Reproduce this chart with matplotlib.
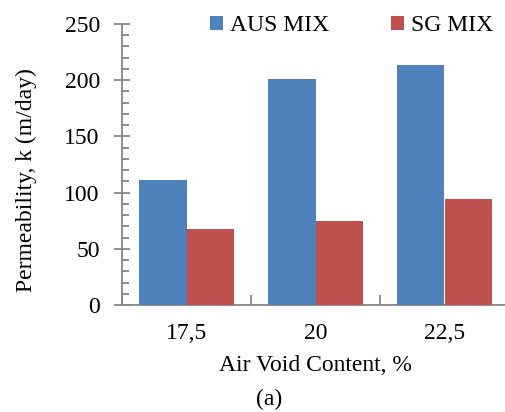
import matplotlib
matplotlib.use("Agg")
import matplotlib.pyplot as plt
from matplotlib.ticker import MultipleLocator, FixedLocator
import numpy as np

categories = ["17,5", "20", "22,5"]
aus_mix = [111, 201, 213.5]
sg_mix = [68, 75, 94]
series_names = ["AUS MIX", "SG MIX"]

plt.rcParams['font.family'] = ['Liberation Serif', 'DejaVu Serif']

W, H = 505, 412
fig = plt.figure(figsize=(W/100, H/100), dpi=100)
ax = fig.add_axes([122/W, (H-305)/H, 387/W, 281/H])

x = np.arange(len(categories))
bw = 0.365
ax.bar(x - bw/2, aus_mix, bw, color='#4F81BD', label=series_names[0], zorder=3)
ax.bar(x + bw/2, sg_mix, bw, color='#C0504D', label=series_names[1], zorder=3)

ax.set_xlim(-0.5, len(categories) - 0.5)
ax.set_ylim(0, 250)
gray = '#868686'
for s in ['top', 'right']:
    ax.spines[s].set_visible(False)
for s in ['left', 'bottom']:
    ax.spines[s].set_color(gray)
    ax.spines[s].set_linewidth(1.3)

ax.yaxis.set_major_locator(MultipleLocator(50))
ax.yaxis.set_minor_locator(MultipleLocator(10))
ax.tick_params(axis='y', which='major', direction='inout', length=12, width=1.3,
               color=gray, labelsize=17, pad=10)
ax.tick_params(axis='y', which='minor', direction='in', length=5, width=1.3, color=gray)

ax.xaxis.set_major_locator(FixedLocator([-0.5, 0.5, 1.5, 2.5]))
ax.xaxis.set_minor_locator(FixedLocator(list(x)))
ax.set_xticklabels([], minor=False)
ax.set_xticklabels(categories, minor=True)
ax.tick_params(axis='x', which='major', direction='in', length=7, width=1.3, color=gray)
ax.tick_params(axis='x', which='minor', length=0, labelsize=17, pad=13)

ax.set_xlabel("Air Void Content, %", fontsize=17, labelpad=8)
ax.set_ylabel("Permeability, k (m/day)", fontsize=17)
ax.yaxis.set_label_coords((37 - 122)/387, (305 - 180)/281)

leg = ax.legend(loc='upper right', ncol=2, frameon=False, fontsize=17,
                bbox_to_anchor=((503 - 122)/387, 1.065),
                handlelength=0.55, handleheight=0.55, handletextpad=0.3,
                columnspacing=2.65, borderaxespad=0)

fig.text(269/W, 1 - 399/H, "(a)", ha='center', va='center', fontsize=17)

fig.savefig("out.png", dpi=100)
